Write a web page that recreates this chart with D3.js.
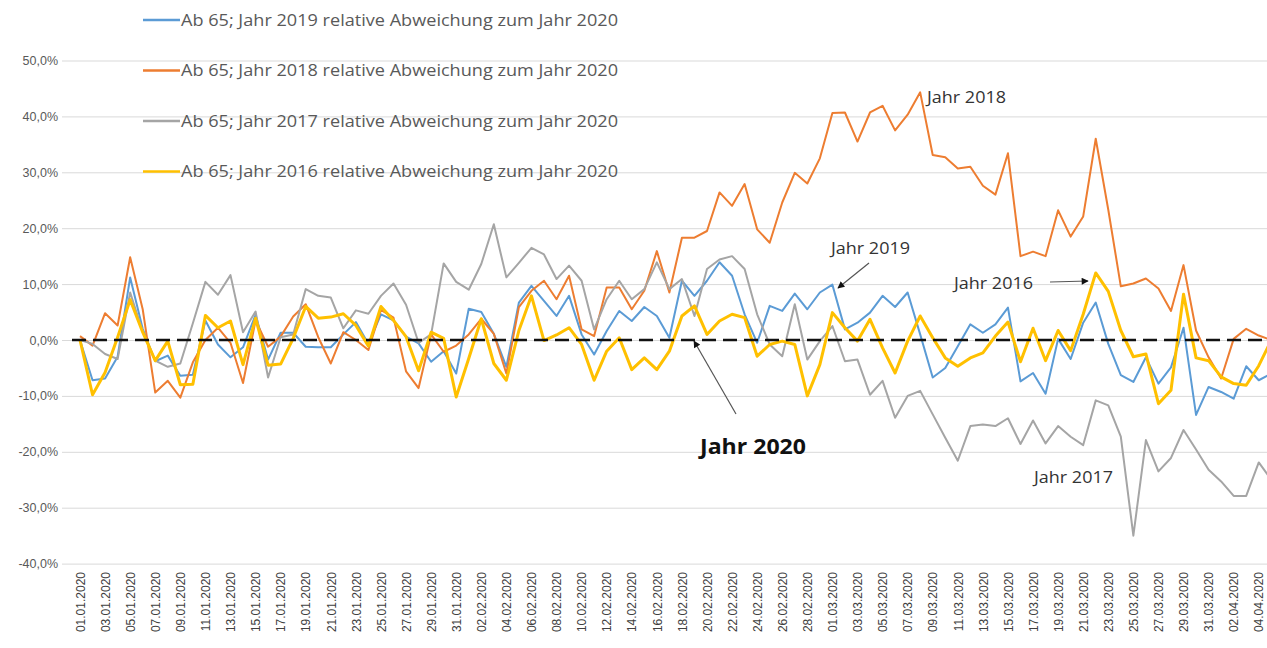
<!DOCTYPE html>
<html>
<head>
<meta charset="utf-8">
<script src="https://cdn.jsdelivr.net/npm/d3@7/dist/d3.min.js"></script>
<style>
  body { margin: 0; background: #fff; }
  svg { display: block; font-family: "Open Sans", "Liberation Sans", sans-serif; }
</style>
</head>
<body>
<script>
// categories: one per day, 01.01.2020 .. 05.04.2020 (last one is cut by the right edge)
var days = d3.timeDay.range(new Date(2020, 0, 1), new Date(2020, 3, 6));
var categories = days.map(d3.timeFormat("%d.%m.%Y"));

// relative deviation to 2020, in percent
var j2019 = [0, -7.2, -6.9, -3, 11.2, 2, -3.8, -2.8, -6.4, -6.2,
  3.5, -0.8, -3.1, -1.3, 4.5, -3.5, 1.3, 1.3, -1.2, -1.3,
  -1.3, 1, 3.2, -0.7, 4.6, 3.5, 0.6, -0.6, -3.9, -2,
  -6, 5.6, 5, 1.1, -4.8, 6.7, 9.7, 7, 4.3, 7.9,
  1, -2.6, 1.6, 5.2, 3.4, 5.9, 4.3, 0.4, 10.6, 7.9,
  10.6, 13.9, 11.5, 4.6, -0.5, 6.1, 5.2, 8.3, 5.5, 8.5,
  9.9, 1.9, 3.1, 4.9, 7.9, 5.9, 8.5, 1, -6.7, -5,
  -1.1, 2.8, 1.3, 2.8, 5.8, -7.4, -5.9, -9.6, 0.2, -3.4,
  3.1, 6.7, -0.7, -6.3, -7.5, -3.1, -7.8, -4.9, 2.2, -13.4,
  -8.4, -9.3, -10.5, -4.7, -7.2, -6];
var j2018 = [0.7, -1, 4.8, 2.6, 14.8, 5.5, -9.4, -7.3, -10.3, -4,
  0, 2.2, -0.5, -7.7, 3.5, -1.2, 0.6, 4.2, 6.4, 0.5,
  -4.2, 1.4, 0, -1.8, 5.4, 4, -5.6, -8.6, 1, -2.1,
  -1, 1, 3.8, 1.1, -6, 5.9, 8.8, 10.6, 7.3, 11.5,
  1.9, 0.7, 9.4, 9.4, 5.5, 8.8, 15.9, 8.5, 18.3, 18.3,
  19.5, 26.4, 24, 27.9, 19.8, 17.4, 24.6, 29.9, 28, 32.5,
  40.6, 40.7, 35.5, 40.7, 41.9, 37.5, 40.3, 44.3, 33.1, 32.7,
  30.7, 31, 27.6, 26, 33.4, 15, 15.8, 15, 23.2, 18.5,
  22.1, 36, 23.3, 9.6, 10.1, 11, 9.2, 5.2, 13.4, 1.7,
  -3.1, -6.9, 0.2, 2, 0.8, 0];
var j2017 = [0, -0.7, -2.5, -3.4, 8.5, 1.5, -3.7, -4.8, -4.2, 3,
  10.4, 8.1, 11.6, 1.4, 5.1, -6.7, 0.5, 1, 9.1, 7.9,
  7.6, 2.1, 5.3, 4.7, 7.9, 10.1, 6.3, -0.5, 1, 13.7,
  10.4, 9, 13.6, 20.7, 11.2, 13.8, 16.5, 15.3, 10.9, 13.3,
  10.6, 1.9, 7.3, 10.6, 7.3, 9.1, 13.9, 9.1, 10.9, 4.3,
  12.7, 14.4, 15, 12.7, 4.6, -0.8, -2.9, 6.4, -3.5, -0.2,
  2.5, -3.8, -3.5, -9.8, -7.3, -13.9, -10, -9.1, -13.3, -17.5,
  -21.6, -15.4, -15.1, -15.4, -14, -18.6, -14.4, -18.5, -15.4, -17.3,
  -18.8, -10.8, -11.7, -17.3, -35, -17.9, -23.5, -21.1, -16.1, -19.6,
  -23.2, -25.3, -27.9, -27.9, -21.9, -25];
var j2016 = [0, -9.8, -5.8, 0.5, 7.2, 1.4, -3.7, -0.2, -8, -7.9,
  4.4, 2.2, 3.4, -4.4, 3.9, -4.5, -4.3, 0.3, 6, 3.9,
  4.1, 4.7, 2.6, -1.1, 6, 3.5, 0.6, -5.5, 1.4, 0.3,
  -10.2, -3.3, 3.8, -4.2, -7.2, 1.7, 7.9, -0.1, 0.9, 2.2,
  -0.8, -7.2, -2, 0.4, -5.3, -3.2, -5.3, -2, 4.3, 6.1,
  1, 3.4, 4.6, 4, -2.9, -0.8, -0.2, -0.8, -10, -4.4,
  4.9, 2.2, -0.2, 3.7, -1.4, -5.9, -0.2, 4.3, 0.4, -3.2,
  -4.7, -3.2, -2.3, 0.7, 3.2, -3.9, 2.1, -3.7, 1.7, -1.9,
  4.6, 12, 8.7, 1.7, -3, -2.5, -11.4, -9, 8.2, -3.2,
  -3.7, -6.6, -7.8, -8.1, -4.6, 0];

var seriesNames = [
  "Ab 65; Jahr 2019 relative Abweichung zum Jahr 2020",
  "Ab 65; Jahr 2018 relative Abweichung zum Jahr 2020",
  "Ab 65; Jahr 2017 relative Abweichung zum Jahr 2020",
  "Ab 65; Jahr 2016 relative Abweichung zum Jahr 2020"
];
var seriesValues = [j2019, j2018, j2017, j2016];
var seriesColors = ["#5b9bd5", "#ed7d31", "#a5a5a5", "#ffc000"];
var seriesWidths = [2, 2, 2, 3];

var yTicks = [-40, -30, -20, -10, 0, 10, 20, 30, 40, 50];

var notes = [
  { text: "Jahr 2018", x: 927, y: 103 },
  { text: "Jahr 2019", x: 831, y: 254 },
  { text: "Jahr 2016", x: 954, y: 289 },
  { text: "Jahr 2017", x: 1034, y: 483 }
];

var de = d3.formatLocale({ decimal: ",", thousands: ".", grouping: [3], currency: ["", " €"], minus: "-" });
var pct = de.format(".1f");

var W = 1267, H = 648;
var svg = d3.select("body").append("svg")
  .attr("width", W)
  .attr("height", H);

var defs = svg.append("defs");
defs.append("marker")
  .attr("id", "head")
  .attr("viewBox", "0 0 10 10")
  .attr("refX", 9).attr("refY", 5)
  .attr("markerWidth", 8).attr("markerHeight", 7)
  .attr("markerUnits", "userSpaceOnUse")
  .attr("orient", "auto")
  .append("path")
  .attr("d", "M0,0 L10,5 L0,10 z")
  .attr("fill", "#111");

var x = d3.scalePoint()
  .domain(categories)
  .range([80, 80 + 12.54 * (categories.length - 1)]);

var y = d3.scaleLinear()
  .domain([-40, 50])
  .range([563.6, 60.5]);

// gridlines + y labels
var yAxis = d3.axisLeft(y)
  .tickValues(yTicks)
  .tickSize(-(W - 62))
  .tickFormat(function(d) { return pct(d) + "%"; });

svg.append("g")
  .attr("transform", "translate(62,0)")
  .call(yAxis)
  .call(function(g) {
    g.select(".domain").remove();
    g.selectAll(".tick line").attr("stroke", "#d9d9d9").attr("stroke-width", 1);
    g.selectAll(".tick text")
      .attr("x", -4)
      .attr("fill", "#595959")
      .style("font-size", "12.5px")
      .style("font-family", "'Liberation Sans', sans-serif");
  });

// x labels, every second day, rotated
var xAxis = d3.axisBottom(x)
  .tickValues(categories.filter(function(d, i) { return i % 2 === 0; }))
  .tickSize(0);

svg.append("g")
  .attr("transform", "translate(0," + 568 + ")")
  .call(xAxis)
  .call(function(g) {
    g.select(".domain").remove();
    g.selectAll(".tick text")
      .attr("transform", "rotate(-90)")
      .attr("x", -4)
      .attr("y", 0)
      .attr("dy", "0.35em")
      .attr("text-anchor", "end")
      .attr("fill", "#404040")
      .style("font-size", "12px")
      .style("font-family", "'Liberation Sans', sans-serif");
  });

// series lines
var line = d3.line()
  .x(function(d, i) { return x(categories[i]); })
  .y(function(d) { return y(d); });

seriesValues.forEach(function(vals, k) {
  svg.append("path")
    .datum(vals)
    .attr("fill", "none")
    .attr("stroke", seriesColors[k])
    .attr("stroke-width", seriesWidths[k])
    .attr("stroke-linejoin", "round")
    .attr("d", line);
});

// 2020 reference (0 %)
svg.append("line")
  .attr("x1", 72).attr("x2", W)
  .attr("y1", y(0)).attr("y2", y(0))
  .attr("stroke", "#111")
  .attr("stroke-width", 2.5)
  .attr("stroke-dasharray", "14,7");

// legend
var legend = svg.append("g");
seriesNames.forEach(function(name, k) {
  var ly = 20 + k * 50.5;
  legend.append("line")
    .attr("x1", 143).attr("x2", 180)
    .attr("y1", ly).attr("y2", ly)
    .attr("stroke", seriesColors[k])
    .attr("stroke-width", 2.5);
  legend.append("text")
    .attr("x", 181).attr("y", ly)
    .attr("dy", "0.35em")
    .attr("fill", "#595959")
    .style("font-size", "16.5px")
    .attr("textLength", 437)
    .attr("lengthAdjust", "spacingAndGlyphs")
    .text(name);
});

// annotations
notes.forEach(function(n) {
  svg.append("text")
    .attr("x", n.x).attr("y", n.y)
    .attr("fill", "#333")
    .style("font-size", "16.5px")
    .attr("textLength", 79)
    .attr("lengthAdjust", "spacingAndGlyphs")
    .text(n.text);
});

svg.append("text")
  .attr("x", 700).attr("y", 454)
  .attr("fill", "#111")
  .style("font-size", "21px")
  .style("font-weight", "bold")
  .attr("textLength", 106)
  .attr("lengthAdjust", "spacingAndGlyphs")
  .text("Jahr 2020");

var arrows = [
  [869, 263, 838, 288],
  [1050, 282, 1088, 281],
  [736, 414, 694, 341]
];
arrows.forEach(function(a) {
  svg.append("line")
    .attr("x1", a[0]).attr("y1", a[1])
    .attr("x2", a[2]).attr("y2", a[3])
    .attr("stroke", "#555")
    .attr("stroke-width", 1.2)
    .attr("marker-end", "url(#head)");
});
</script>
</body>
</html>
